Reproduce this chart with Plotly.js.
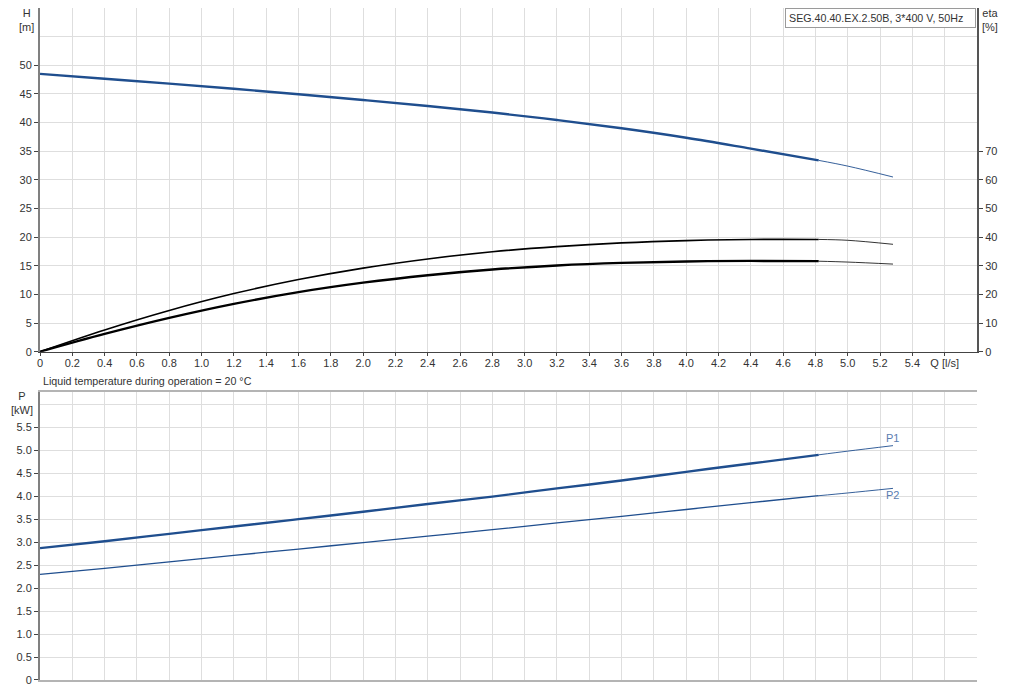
<!DOCTYPE html>
<html>
<head>
<meta charset="utf-8">
<script src="https://cdn.plot.ly/plotly-3.0.1.min.js"></script>
<style>html,body{margin:0;padding:0;background:#fff;}#chart{width:1013px;height:693px;}</style>
</head>
<body>
<div id="chart"></div>
<script>
// ---- data ----
var flowQ      = [0, 0.4, 0.8, 1.2, 1.6, 2.0, 2.4, 2.8, 3.2, 3.6, 4.0, 4.4, 4.82];
var flowQExt   = [4.82, 5.0, 5.28];
var headH      = [48.5, 47.65, 46.8, 45.9, 44.95, 43.95, 42.9, 41.75, 40.45, 39.0, 37.35, 35.45, 33.4];
var headHExt   = [33.4, 32.4, 30.5];
var etaA       = [0, 7.6, 14.4, 20.3, 25.2, 29.2, 32.4, 34.9, 36.7, 38.0, 38.8, 39.2, 39.2];
var etaAExt    = [39.2, 38.9, 37.5];
var etaB       = [0, 6.2, 11.8, 16.7, 20.8, 24.1, 26.7, 28.7, 30.1, 31.0, 31.5, 31.7, 31.6];
var etaBExt    = [31.6, 31.3, 30.6];
var powerP1    = [2.87, 3.02, 3.18, 3.34, 3.50, 3.66, 3.83, 3.99, 4.17, 4.34, 4.53, 4.71, 4.90];
var powerP1Ext = [4.90, 4.98, 5.10];
var powerP2    = [2.30, 2.43, 2.57, 2.71, 2.85, 2.99, 3.13, 3.27, 3.42, 3.56, 3.71, 3.86, 4.01];
var powerP2Ext = [4.01, 4.07, 4.17];

var qTickVals  = [0,0.2,0.4,0.6,0.8,1.0,1.2,1.4,1.6,1.8,2.0,2.2,2.4,2.6,2.8,3.0,3.2,3.4,3.6,3.8,4.0,4.2,4.4,4.6,4.8,5.0,5.2,5.4,5.6];
var qTickText  = ["0","0.2","0.4","0.6","0.8","1.0","1.2","1.4","1.6","1.8","2.0","2.2","2.4","2.6","2.8","3.0","3.2","3.4","3.6","3.8","4.0","4.2","4.4","4.6","4.8","5.0","5.2","5.4","Q [l/s]"];
var hTickVals  = [0,5,10,15,20,25,30,35,40,45,50];
var etaTickVals= [0,10,20,30,40,50,60,70];
var pTickVals  = [0,0.5,1.0,1.5,2.0,2.5,3.0,3.5,4.0,4.5,5.0,5.5];
var pTickText  = ["0","0.5","1.0","1.5","2.0","2.5","3.0","3.5","4.0","4.5","5.0","5.5"];

var pumpTitle  = "SEG.40.40.EX.2.50B, 3*400 V, 50Hz";
var liquidNote = "Liquid temperature during operation = 20 °C";

var BLUE = "#1f4e8e";
var GRID = "#dedede";

function line(x, y, xa, ya, color, width) {
  return {x: x, y: y, xaxis: xa, yaxis: ya, type: "scatter", mode: "lines",
          line: {color: color, width: width, shape: "spline", smoothing: 1},
          hoverinfo: "skip", showlegend: false};
}

var traces = [
  line(flowQ, headH, "x", "y", BLUE, 2.4),
  line(flowQExt, headHExt, "x", "y", BLUE, 0.9),
  line(flowQ, etaA, "x", "y2", "#000", 1.6),
  line(flowQExt, etaAExt, "x", "y2", "#000", 0.8),
  line(flowQ, etaB, "x", "y2", "#000", 2.3),
  line(flowQExt, etaBExt, "x", "y2", "#000", 0.8),
  line(flowQ, powerP1, "x2", "y3", BLUE, 2.4),
  line(flowQExt, powerP1Ext, "x2", "y3", BLUE, 0.9),
  line(flowQ, powerP2, "x2", "y3", BLUE, 1.3),
  line(flowQExt, powerP2Ext, "x2", "y3", BLUE, 0.9)
];

var FONT = {family: "Liberation Sans, Arial, sans-serif", size: 11, color: "#333"};
var FONT_S = {family: "Liberation Sans, Arial, sans-serif", size: 10.7, color: "#333"};

var layout = {
  width: 1013, height: 693,
  margin: {l: 40, r: 36, t: 8, b: 13},
  paper_bgcolor: "#fff", plot_bgcolor: "#fff",
  font: FONT,
  showlegend: false,
  xaxis: {
    domain: [0, 1], anchor: "y", range: [0, 5.8],
    tickmode: "array", tickvals: qTickVals, ticktext: qTickText,
    showgrid: true, gridcolor: GRID, gridwidth: 1,
    minor: {tickmode: "array", tickvals: [5.8], showgrid: true, gridcolor: GRID, ticks: ""},
    showline: true, linecolor: "#444", linewidth: 1.5,
    ticks: "outside", ticklen: 3, tickcolor: "#444", ticklabelstandoff: -2,
    zeroline: false, tickfont: FONT, fixedrange: true
  },
  yaxis: {
    domain: [0.4885, 1], anchor: "x", range: [0, 60],
    tickmode: "array", tickvals: hTickVals,
    showgrid: true, gridcolor: GRID, gridwidth: 1,
    minor: {tickmode: "array", tickvals: [55, 60], showgrid: true, gridcolor: GRID, ticks: ""},
    showline: true, linecolor: "#808080", linewidth: 2,
    ticks: "outside", ticklen: 4, tickcolor: "#444",
    zeroline: false, tickfont: FONT, fixedrange: true
  },
  yaxis2: {
    overlaying: "y", side: "right", anchor: "x", range: [0, 120],
    tickmode: "array", tickvals: etaTickVals,
    showgrid: false, showline: true, linecolor: "#555", linewidth: 2,
    ticks: "outside", ticklen: 4, tickcolor: "#444",
    zeroline: false, tickfont: FONT, fixedrange: true
  },
  xaxis2: {
    domain: [0, 1], anchor: "y3", range: [0, 5.8],
    tickmode: "array", tickvals: qTickVals, showticklabels: false,
    showgrid: true, gridcolor: GRID, gridwidth: 1,
    showline: true, mirror: true, linecolor: "#b4b4b4", linewidth: 2,
    ticks: "", zeroline: false, fixedrange: true
  },
  yaxis3: {
    domain: [0, 0.4281], anchor: "x2", range: [0, 6.26],
    tickmode: "array", tickvals: pTickVals, ticktext: pTickText,
    showgrid: true, gridcolor: GRID, gridwidth: 1,
    minor: {tickmode: "array", tickvals: [6.0], showgrid: true, gridcolor: GRID, ticks: ""},
    showline: true, linecolor: "#808080", linewidth: 2,
    ticks: "outside", ticklen: 4, tickcolor: "#444",
    zeroline: false, tickfont: FONT, fixedrange: true
  },
  yaxis4: {
    overlaying: "y3", side: "right", anchor: "x2", range: [0, 6.26],
    showgrid: false, showticklabels: false, ticks: "",
    showline: true, linecolor: "#b4b4b4", linewidth: 2,
    zeroline: false, fixedrange: true
  },
  annotations: [
    {xref: "paper", yref: "paper", x: -0.014, y: 1.0, xanchor: "center", yanchor: "top",
     text: "H<br>[m]", showarrow: false, font: FONT, yshift: 3, align: "center"},
    {xref: "paper", yref: "paper", x: 1.014, y: 1.0, xanchor: "center", yanchor: "top",
     text: "eta<br>[%]", showarrow: false, font: FONT, yshift: 3, align: "center"},
    {xref: "paper", yref: "paper", x: 1.0, y: 1.0, xanchor: "right", yanchor: "top",
     text: pumpTitle, showarrow: false, font: FONT_S, bgcolor: "#fff",
     bordercolor: "#9a9a9a", borderwidth: 1, borderpad: 3, xshift: -1,
     width: 183, align: "left"},
    {xref: "paper", yref: "paper", x: 0.001, y: 0.4885, xanchor: "left", yanchor: "top",
     text: liquidNote, showarrow: false, font: FONT_S, yshift: -21},
    {xref: "paper", yref: "paper", x: -0.019, y: 0.4281, xanchor: "center", yanchor: "bottom",
     text: "P<br>[kW]", showarrow: false, font: FONT, yshift: -26, align: "center"},
    {xref: "x2", yref: "y3", x: flowQExt[flowQExt.length-1], y: powerP1Ext[powerP1Ext.length-1],
     xanchor: "center", yanchor: "bottom", text: "P1", showarrow: false,
     font: {family: FONT.family, size: 11, color: "#5a7db0"}, yshift: 0},
    {xref: "x2", yref: "y3", x: flowQExt[flowQExt.length-1], y: powerP2Ext[powerP2Ext.length-1],
     xanchor: "center", yanchor: "top", text: "P2", showarrow: false,
     font: {family: FONT.family, size: 11, color: "#5a7db0"}, yshift: 1}
  ]
};

Plotly.newPlot("chart", traces, layout, {displayModeBar: false, staticPlot: true});
</script>
</body>
</html>
